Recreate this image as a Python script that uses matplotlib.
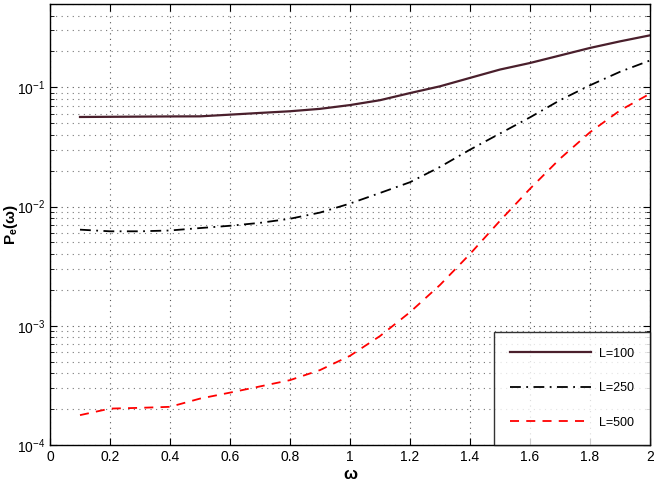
import matplotlib
matplotlib.use("Agg")
import matplotlib.pyplot as plt
from matplotlib.ticker import LogLocator, NullFormatter, FixedLocator

plt.rcParams['font.family'] = ['Liberation Sans', 'DejaVu Sans']
plt.rcParams['mathtext.fontset'] = 'custom'
plt.rcParams['mathtext.rm'] = 'Liberation Sans'
plt.rcParams['mathtext.it'] = 'Liberation Sans:italic'
plt.rcParams['mathtext.bf'] = 'Liberation Sans:bold'

omega = [0.1, 0.2, 0.3, 0.4, 0.5, 0.6, 0.7, 0.8, 0.9, 1.0,
         1.1, 1.2, 1.3, 1.4, 1.5, 1.6, 1.7, 1.8, 1.9, 2.0]
pe_L100 = [0.0564, 0.0566, 0.0568, 0.0570, 0.0571, 0.0590, 0.0610, 0.0630, 0.0660, 0.0710,
           0.0780, 0.0895, 0.102, 0.120, 0.141, 0.160, 0.185, 0.214, 0.243, 0.273]
pe_L250 = [0.0064, 0.0062, 0.0062, 0.0063, 0.0066, 0.0069, 0.0073, 0.0079, 0.0089, 0.0106,
           0.0130, 0.0160, 0.0215, 0.0300, 0.0410, 0.0560, 0.0780, 0.104, 0.135, 0.168]
pe_L500 = [1.78e-4, 2.02e-4, 2.05e-4, 2.09e-4, 2.45e-4, 2.75e-4, 3.1e-4, 3.5e-4, 4.25e-4, 5.6e-4,
           8.2e-4, 1.3e-3, 2.2e-3, 4.0e-3, 7.6e-3, 0.0141, 0.0252, 0.042, 0.064, 0.0885]
labels = ['L=100', 'L=250', 'L=500']
xticks = [0, 0.2, 0.4, 0.6, 0.8, 1, 1.2, 1.4, 1.6, 1.8, 2]
xticklabels = ['0', '0.2', '0.4', '0.6', '0.8', '1', '1.2', '1.4', '1.6', '1.8', '2']

fig = plt.figure(figsize=(6.54, 4.91), dpi=100)
ax = fig.add_axes([50/654, 1-445/491, 600/654, 441/491])

ax.semilogy(omega, pe_L100, color='#4a1f2c', lw=1.6, ls='-', label=labels[0])
ax.semilogy(omega, pe_L250, color='black', lw=1.3, ls=(0, (6, 3, 1, 3)), label=labels[1])
ax.semilogy(omega, pe_L500, color='#ff0000', lw=1.3, ls=(0, (5, 4)), label=labels[2])

ax.set_xlim(0, 2)
ax.set_ylim(1e-4, 0.5)
ax.set_xticks(xticks)
ax.set_xticklabels(xticklabels)
ax.yaxis.set_major_locator(FixedLocator([1e-4, 1e-3, 1e-2, 1e-1]))
ax.yaxis.set_minor_locator(LogLocator(base=10, subs=range(2, 10), numticks=20))
ax.yaxis.set_minor_formatter(NullFormatter())

ax.grid(True, which='major', ls=(0, (1, 4)), color='#555555', lw=0.8)
ax.grid(True, which='minor', axis='y', ls=(0, (1, 4)), color='#777777', lw=0.8)
ax.tick_params(which='both', direction='in', top=True, right=True, labelsize=10)
ax.tick_params(which='major', length=5)
ax.tick_params(which='minor', length=3)
for s in ax.spines.values():
    s.set_linewidth(1.0)

ax.set_xlabel('ω', fontsize=12, fontweight='bold', labelpad=2)
ax.set_ylabel(r'$\mathbf{P_e(\omega)}$', fontsize=11)
ax.yaxis.set_label_coords(-0.05, 0.5)

leg = ax.legend(loc='lower right', fontsize=9, frameon=True, fancybox=False,
                edgecolor='black', borderpad=1.3, labelspacing=1.8, handlelength=6.5,
                handletextpad=0.6, borderaxespad=0)
leg.get_frame().set_linewidth(1.0)

fig.savefig('out.png', dpi=100)
